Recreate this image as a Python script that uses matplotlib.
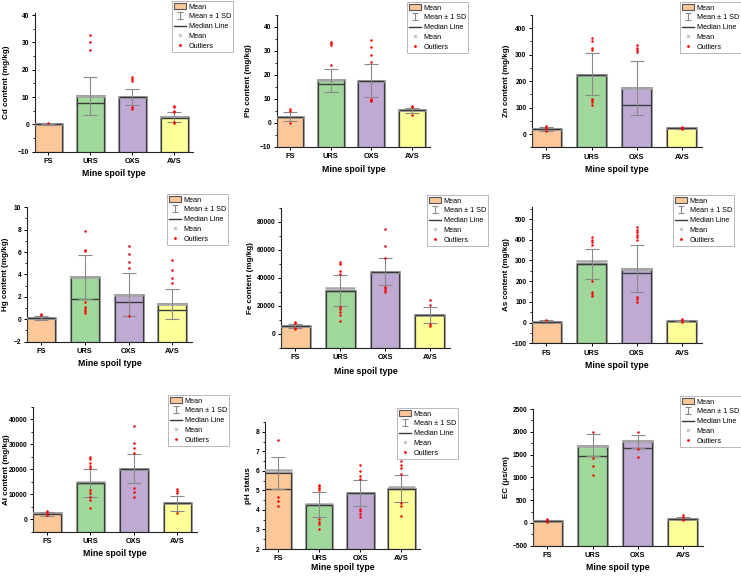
import numpy as np
import matplotlib
matplotlib.use('Agg')
import matplotlib.pyplot as plt
from matplotlib.patches import Patch
from matplotlib.lines import Line2D
from matplotlib.ticker import MultipleLocator, AutoMinorLocator

plt.rcParams['font.family'] = ['Liberation Sans', 'DejaVu Sans']
plt.rcParams['font.weight'] = 'bold'

W, H = 741, 576
CATS = ['FS', 'URS', 'OXS', 'AVS']
COLORS = ['#FDC899', '#A0D89C', '#BFAAD4', '#FFFF99']
XLABEL = 'Mine spoil type'

# Cd
cd_mean = [0.1, 10.4, 9.9, 2.7]
cd_median = [0.0, 7.8, 9.9, 2.4]
cd_lo = [-0.1, 3.4, 7.0, 1.0]
cd_hi = [0.3, 17.4, 13.0, 4.4]
cd_out = [[0.6], [32.6, 30.2, 27.1], [17.2, 16.6, 16.0, 6.5, 5.7],
          [6.8, 6.2, 4.9, 4.5, 1.0, 0.6]]

# Pb
pb_mean = [2.5, 17.8, 17.5, 5.3]
pb_median = [2.5, 16.0, 17.5, 5.3]
pb_lo = [0.7, 12.9, 10.6, 3.9]
pb_hi = [4.3, 22.4, 24.4, 6.1]
pb_out = [[5.6, 5.0, -0.3], [33.8, 33.1, 32.4, 24.0],
          [34.7, 31.7, 28.2, 25.4, 10.1, 9.7, 9.2], [6.9, 6.4, 3.2]]

# Zn
zn_mean = [19, 225, 175, 22]
zn_median = [18, 225, 108, 22]
zn_lo = [11, 147, 72, 19]
zn_hi = [27, 305, 278, 27]
zn_out = [[32, 24, 11], [362, 352, 324, 318, 134, 128, 122, 108],
          [337, 324, 318, 309], [28, 24, 19]]

# Hg
hg_mean = [0.1, 3.75, 2.15, 1.35]
hg_median = [0.1, 1.8, 1.5, 0.8]
hg_lo = [-0.05, 1.8, 0.25, 0.0]
hg_hi = [0.3, 5.7, 4.1, 2.7]
hg_out = [[0.5, 0.35], [7.9, 6.2, 6.1, 1.55, 1.1, 0.95, 0.7, 0.55],
          [6.5, 5.8, 5.15, 4.6, 0.25], [5.3, 4.4, 3.65, 3.2]]

# Fe
fe_mean = [5700, 31000, 44500, 13600]
fe_mark = [5700, 33100, 44500, 13600]
fe_median = [5700, 31000, 44500, 13800]
fe_lo = [4300, 19800, 35000, 8100]
fe_hi = [6900, 42100, 54000, 19000]
fe_out = [[8300, 7600, 4000, 3300],
          [51700, 50000, 45000, 42600, 19500, 17800, 16000, 13600, 9500],
          [75000, 63000, 54000, 33800, 32600, 31400, 30200],
          [24300, 20700, 7100, 5700]]

# As
as_mean = [5, 284, 260, 10]
as_mark = [5, 296, 260, 10]
as_median = [3, 284, 240, 10]
as_lo = [0, 211, 147, 6]
as_hi = [13, 355, 377, 14]
as_out = [[14], [411, 400, 389, 377, 200, 147, 136, 126],
          [460, 447, 436, 425, 412, 401, 123, 112, 101], [18, 11, 5]]

# Al
al_mean = [2400, 14400, 20300, 6400]
al_mark = [2400, 15100, 20300, 6400]
al_median = [2100, 14400, 20300, 6400]
al_lo = [1500, 8800, 14700, 3300]
al_hi = [3100, 20000, 26100, 9300]
al_out = [[3300, 2400, 1700],
          [25000, 24000, 22500, 21500, 20500, 11700, 10400, 9100, 7700, 4400],
          [37500, 30700, 28400, 26400, 12400, 11100, 8800],
          [12100, 11300, 10700, 2400]]

# pH
ph_mean = [5.88, 4.24, 4.86, 5.09]
ph_mark = [6.02, 4.30, 4.86, 5.18]
ph_median = [5.05, 4.24, 4.86, 5.09]
ph_lo = [5.05, 3.62, 4.22, 4.41]
ph_hi = [6.7, 4.9, 5.54, 5.8]
ph_out = [[7.6, 4.65, 4.45, 4.18], [5.3, 5.2, 5.1, 5.0, 3.55, 3.4, 3.3, 3.0],
          [6.3, 6.0, 5.75, 5.6, 4.05, 3.97, 3.8, 3.65],
          [6.5, 6.28, 6.16, 5.82, 4.33, 4.2, 3.68]]

# EC
ec_mean = [45, 1694, 1803, 95]
ec_median = [45, 1460, 1642, 95]
ec_lo = [15, 1460, 1642, 58]
ec_hi = [73, 1949, 1934, 131]
ec_out = [[95, 58, 15], [1993, 1423, 1241, 1058], [1993, 1620, 1445], [182, 131, 73]]

# label, data, mean marker, ylim, major step,
# axes box px (left, right, top, bottom), legend px (x, y), label centres px (ylabel x, xlabel y)
PANELS = [
    ('Cd content (mg/kg)', cd_mean, cd_median, cd_lo, cd_hi, cd_out, cd_mean,
     (-10, 40.7), 10, (35, 193, 13.1, 151.7), (172, 1), (7, 173)),
    ('Pb content (mg/kg)', pb_mean, pb_median, pb_lo, pb_hi, pb_out, pb_mean,
     (-10, 45), 10, (277, 430, 15, 146.7), (407, 2), (249, 169)),
    ('Zn content (mg/kg)', zn_mean, zn_median, zn_lo, zn_hi, zn_out, zn_mean,
     (-50, 450), 100, (532, 702, 15, 147.3), (680, 2), (506, 169)),
    ('Hg content (mg/kg)', hg_mean, hg_median, hg_lo, hg_hi, hg_out, hg_mean,
     (-2, 10), 2, (27, 192, 207.3, 341.7), (167, 194), (6, 364)),
    ('Fe content (mg/kg)', fe_mean, fe_median, fe_lo, fe_hi, fe_out, fe_mark,
     (-10000, 90000), 20000, (281, 450, 208, 348), (427, 195), (250, 372)),
    ('As content (mg/kg)', as_mean, as_median, as_lo, as_hi, as_out, as_mark,
     (-100, 560), 100, (532, 702, 206.6, 343.3), (673, 195), (506, 366)),
    ('Al content (mg/kg)', al_mean, al_median, al_lo, al_hi, al_out, al_mark,
     (-5000, 45000), 10000, (33, 197, 406.8, 531.8), (168, 395), (7, 553)),
    ('pH status', ph_mean, ph_median, ph_lo, ph_hi, ph_out, ph_mark,
     (2, 8.5), 1, (265, 420, 422, 549), (397, 408), (248, 568)),
    ('EC (\u03bcs/cm)', ec_mean, ec_median, ec_lo, ec_hi, ec_out, ec_mean,
     (-500, 2500), 500, (533, 703, 409, 545.7), (680, 396), (506, 568)),
]

fig = plt.figure(figsize=(W / 100, H / 100), dpi=100)
x = np.arange(1, 5)
bw = 0.64

for (ylabel, mean, med, lo, hi, outs, mark, ylim, step, box, leg, lab_xy) in PANELS:
    l, r, t, b = box
    ax = fig.add_axes([l / W, (H - b) / H, (r - l) / W, (b - t) / H])
    base = ylim[0]
    heights = [m - base for m in mean]
    # gray halo then dark outline, like the Origin bars
    ax.bar(x, heights, bw, bottom=base, color=COLORS, edgecolor='#a8a8a8', linewidth=2.2, zorder=2)
    ax.bar(x, heights, bw, bottom=base, color=COLORS, edgecolor='#3c3c3c', linewidth=0.9, zorder=3)
    ax.hlines(mark, x - bw / 2 - 0.02, x + bw / 2 + 0.02, color='#a8a8a8', linewidth=1.8, zorder=3.5)
    ax.hlines(med, x - bw / 2, x + bw / 2, color='#3a3a3a', linewidth=1.0, zorder=4)
    center = [(a + c) / 2 for a, c in zip(lo, hi)]
    half = [(c - a) / 2 for a, c in zip(lo, hi)]
    ax.errorbar(x, center, yerr=half, fmt='none', ecolor='#8a8a8a', elinewidth=0.8,
                capsize=5, capthick=0.8, zorder=5)
    for xi, pts in zip(x, outs):
        ax.plot([xi] * len(pts), pts, 'o', color='red', markersize=1.8, zorder=6,
                markeredgewidth=0)

    ax.set_xlim(0.68, 4.45)
    ax.set_ylim(*ylim)
    ax.set_xticks(x)
    ax.set_xticklabels(CATS, fontsize=5.3, fontweight='bold')
    ax.yaxis.set_major_locator(MultipleLocator(step))
    ax.yaxis.set_minor_locator(AutoMinorLocator(2))
    ax.tick_params(axis='y', labelsize=4.8, length=2.5, width=0.7, pad=1.5)
    ax.tick_params(axis='y', which='minor', length=1.5, width=0.6)
    ax.tick_params(axis='x', length=2.5, width=0.7, pad=2)
    for lab in ax.get_yticklabels():
        lab.set_fontweight('bold')
    ax.spines['top'].set_visible(False)
    ax.spines['right'].set_visible(False)
    for s in ('left', 'bottom'):
        ax.spines[s].set_linewidth(0.8)
        ax.spines[s].set_color('#222222')
    ax.set_ylabel(ylabel, fontsize=5.8, fontweight='bold', va='center')
    ax.set_xlabel(XLABEL, fontsize=6.3, fontweight='bold', va='center')
    ax.yaxis.set_label_coords(-(l - lab_xy[0]) / (r - l), 0.5)
    ax.xaxis.set_label_coords(0.5, -(lab_xy[1] - b) / (b - t))

    eb = ax.errorbar([np.nan], [np.nan], yerr=[1], fmt='none', ecolor='#8a8a8a',
                     elinewidth=0.8, capsize=2, capthick=0.8)
    handles = [
        Patch(facecolor=COLORS[0], edgecolor='#555555', linewidth=0.8),
        eb,
        Line2D([], [], color='#3a3a3a', linewidth=1.0),
        Line2D([], [], marker='s', color='#cccccc', linestyle='none', markersize=2),
        Line2D([], [], marker='o', color='red', linestyle='none', markersize=2,
               markeredgewidth=0),
    ]
    labels = ['Mean', 'Mean \u00b1 1 SD', 'Median Line', 'Mean', 'Outliers']
    lg = fig.legend(handles, labels, loc='upper left',
                    bbox_to_anchor=(leg[0] / W, 1 - leg[1] / H),
                    fontsize=5.2, frameon=True, fancybox=False, handlelength=1.7,
                    handleheight=0.9, handletextpad=0.3, borderpad=0.3,
                    labelspacing=0.32, borderaxespad=0)
    lg.get_frame().set_edgecolor('#999999')
    lg.get_frame().set_linewidth(0.6)
    for txt in lg.get_texts():
        txt.set_fontweight('normal')

fig.savefig('out.png', dpi=100, facecolor='white')
